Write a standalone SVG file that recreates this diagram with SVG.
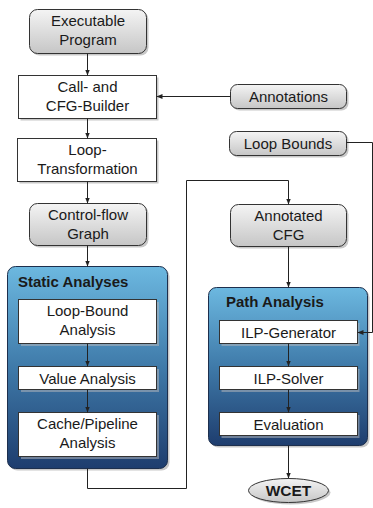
<svg xmlns="http://www.w3.org/2000/svg" width="373" height="508" viewBox="0 0 373 508">
  <defs>
    <linearGradient id="grayFill" x1="0" y1="0" x2="0" y2="1">
      <stop offset="0" stop-color="#f4f4f4"/>
      <stop offset="1" stop-color="#c6c6c6"/>
    </linearGradient>
    <linearGradient id="blueFill" x1="0" y1="0" x2="0" y2="1">
      <stop offset="0" stop-color="#6cb8e0"/>
      <stop offset="0.5" stop-color="#3f7aa9"/>
      <stop offset="1" stop-color="#1e3d6e"/>
    </linearGradient>
    <marker id="arrow" viewBox="0 0 10 10" refX="10" refY="5" markerWidth="6" markerHeight="6" orient="auto" markerUnits="userSpaceOnUse">
      <path d="M0,1 L10,5 L0,9 Z" fill="#222"/>
    </marker>
  </defs>
  <style>
    text { font-family: "Liberation Sans", Arial, sans-serif; font-size: 15px; fill: #1a1a1a; text-anchor: middle; }
    .bold { font-weight: bold; font-size: 15.5px; }
    .title { font-weight: bold; text-anchor: start; }
    .shadow { fill: #9a9a9a; opacity: 0.55; }
    .inshadow { fill: #b0b4ba; opacity: 0.55; }
    .gray { fill: url(#grayFill); stroke: #333; stroke-width: 1; }
    .white { fill: #ffffff; stroke: #333; stroke-width: 1; }
    .blue { fill: url(#blueFill); stroke: #1d2f4d; stroke-width: 1; }
    .conn { fill: none; stroke: #222; stroke-width: 1; }
  </style>

  <!-- input -->
  <g id="executable-program">
    <rect class="shadow" x="31.5" y="11.5" width="117" height="44" rx="8"/>
    <rect class="gray" x="29.5" y="9.5" width="117" height="44" rx="8"/>
    <text x="88" y="26">Executable</text>
    <text x="88" y="45">Program</text>
  </g>

  <g id="call-cfg-builder">
    <rect class="shadow" x="20.5" y="77.5" width="138" height="43"/>
    <rect class="white" x="18.5" y="75.5" width="138" height="43"/>
    <text x="87.5" y="92">Call- and</text>
    <text x="87.5" y="111">CFG-Builder</text>
  </g>

  <g id="annotations">
    <rect class="shadow" x="232.5" y="86.5" width="116" height="24" rx="7"/>
    <rect class="gray" x="230.5" y="84.5" width="116" height="24" rx="7"/>
    <text x="288.5" y="102">Annotations</text>
  </g>

  <g id="loop-bounds">
    <rect class="shadow" x="231.5" y="133.5" width="117" height="24" rx="7"/>
    <rect class="gray" x="229.5" y="131.5" width="117" height="24" rx="7"/>
    <text x="288" y="149">Loop Bounds</text>
  </g>

  <g id="loop-transformation">
    <rect class="shadow" x="19.5" y="140.5" width="139" height="43"/>
    <rect class="white" x="17.5" y="138.5" width="139" height="43"/>
    <text x="87.5" y="155">Loop-</text>
    <text x="87.5" y="174">Transformation</text>
  </g>

  <g id="control-flow-graph">
    <rect class="shadow" x="31.5" y="205.5" width="117" height="42" rx="8"/>
    <rect class="gray" x="29.5" y="203.5" width="117" height="42" rx="8"/>
    <text x="88" y="220">Control-flow</text>
    <text x="88" y="239">Graph</text>
  </g>

  <!-- static analyses container -->
  <g id="static-analyses">
    <rect class="shadow" x="9.5" y="268.5" width="160" height="202" rx="8"/>
    <rect class="blue" x="7.5" y="266.5" width="160" height="202" rx="8"/>
    <text class="title" x="18" y="287">Static Analyses</text>
  </g>

  <g id="loop-bound-analysis">
    <rect class="inshadow" x="21" y="302" width="138" height="44"/>
    <rect class="white" x="18.5" y="299.5" width="138" height="44"/>
    <text x="87.5" y="316">Loop-Bound</text>
    <text x="87.5" y="335">Analysis</text>
  </g>

  <g id="value-analysis">
    <rect class="inshadow" x="21" y="369" width="138" height="23"/>
    <rect class="white" x="18.5" y="366.5" width="138" height="23"/>
    <text x="87.5" y="383.5">Value Analysis</text>
  </g>

  <g id="cache-pipeline-analysis">
    <rect class="inshadow" x="21" y="415" width="138" height="44"/>
    <rect class="white" x="18.5" y="412.5" width="138" height="44"/>
    <text x="87.5" y="429">Cache/Pipeline</text>
    <text x="87.5" y="448">Analysis</text>
  </g>

  <g id="annotated-cfg">
    <rect class="shadow" x="232.5" y="206.5" width="116" height="42" rx="8"/>
    <rect class="gray" x="230.5" y="204.5" width="116" height="42" rx="8"/>
    <text x="288.5" y="221">Annotated</text>
    <text x="288.5" y="240">CFG</text>
  </g>

  <!-- path analysis container -->
  <g id="path-analysis">
    <rect class="shadow" x="210.5" y="289.5" width="159" height="158" rx="8"/>
    <rect class="blue" x="208.5" y="287.5" width="159" height="158" rx="8"/>
    <text class="title" x="226" y="307">Path Analysis</text>
  </g>

  <g id="ilp-generator">
    <rect class="inshadow" x="221.5" y="323" width="138" height="23"/>
    <rect class="white" x="219.5" y="320.5" width="138" height="23"/>
    <text x="288.5" y="337.5">ILP-Generator</text>
  </g>

  <g id="ilp-solver">
    <rect class="inshadow" x="221.5" y="369" width="138" height="23"/>
    <rect class="white" x="219.5" y="366.5" width="138" height="23"/>
    <text x="288.5" y="383.5">ILP-Solver</text>
  </g>

  <g id="evaluation">
    <rect class="inshadow" x="221.5" y="415" width="138" height="23"/>
    <rect class="white" x="219.5" y="412.5" width="138" height="23"/>
    <text x="288.5" y="429.5">Evaluation</text>
  </g>

  <!-- result -->
  <g id="wcet">
    <ellipse class="shadow" cx="290.5" cy="492.5" rx="40" ry="12"/>
    <ellipse class="gray" cx="288.5" cy="490.5" rx="40" ry="12"/>
    <text class="bold" x="288.5" y="496">WCET</text>
  </g>

  <!-- connectors, drawn on top so the ones inside the containers stay visible -->
  <g id="connectors">
    <path class="conn" d="M87.5,53.5 V75.5" marker-end="url(#arrow)"/>
    <path class="conn" d="M87.5,118.5 V138.5" marker-end="url(#arrow)"/>
    <path class="conn" d="M87.5,181.5 V203.5" marker-end="url(#arrow)"/>
    <path class="conn" d="M87.5,245.5 V266.5" marker-end="url(#arrow)"/>
    <path class="conn" d="M230.5,96.5 H156.5" marker-end="url(#arrow)"/>
    <path class="conn" d="M346.5,142.5 H372.5 V332.5 H357.5" marker-end="url(#arrow)"/>
    <path class="conn" d="M87.5,343.5 V366.5" marker-end="url(#arrow)"/>
    <path class="conn" d="M87.5,389.5 V412.5" marker-end="url(#arrow)"/>
    <path class="conn" d="M87.5,468.5 V488.5 H186.5 V180.5 H288.5 V204.5" marker-end="url(#arrow)"/>
    <path class="conn" d="M288.5,246.5 V287.5" marker-end="url(#arrow)"/>
    <path class="conn" d="M288.5,343.5 V366.5" marker-end="url(#arrow)"/>
    <path class="conn" d="M288.5,389.5 V412.5" marker-end="url(#arrow)"/>
    <path class="conn" d="M288.5,445.5 V478.5" marker-end="url(#arrow)"/>
  </g>
</svg>
